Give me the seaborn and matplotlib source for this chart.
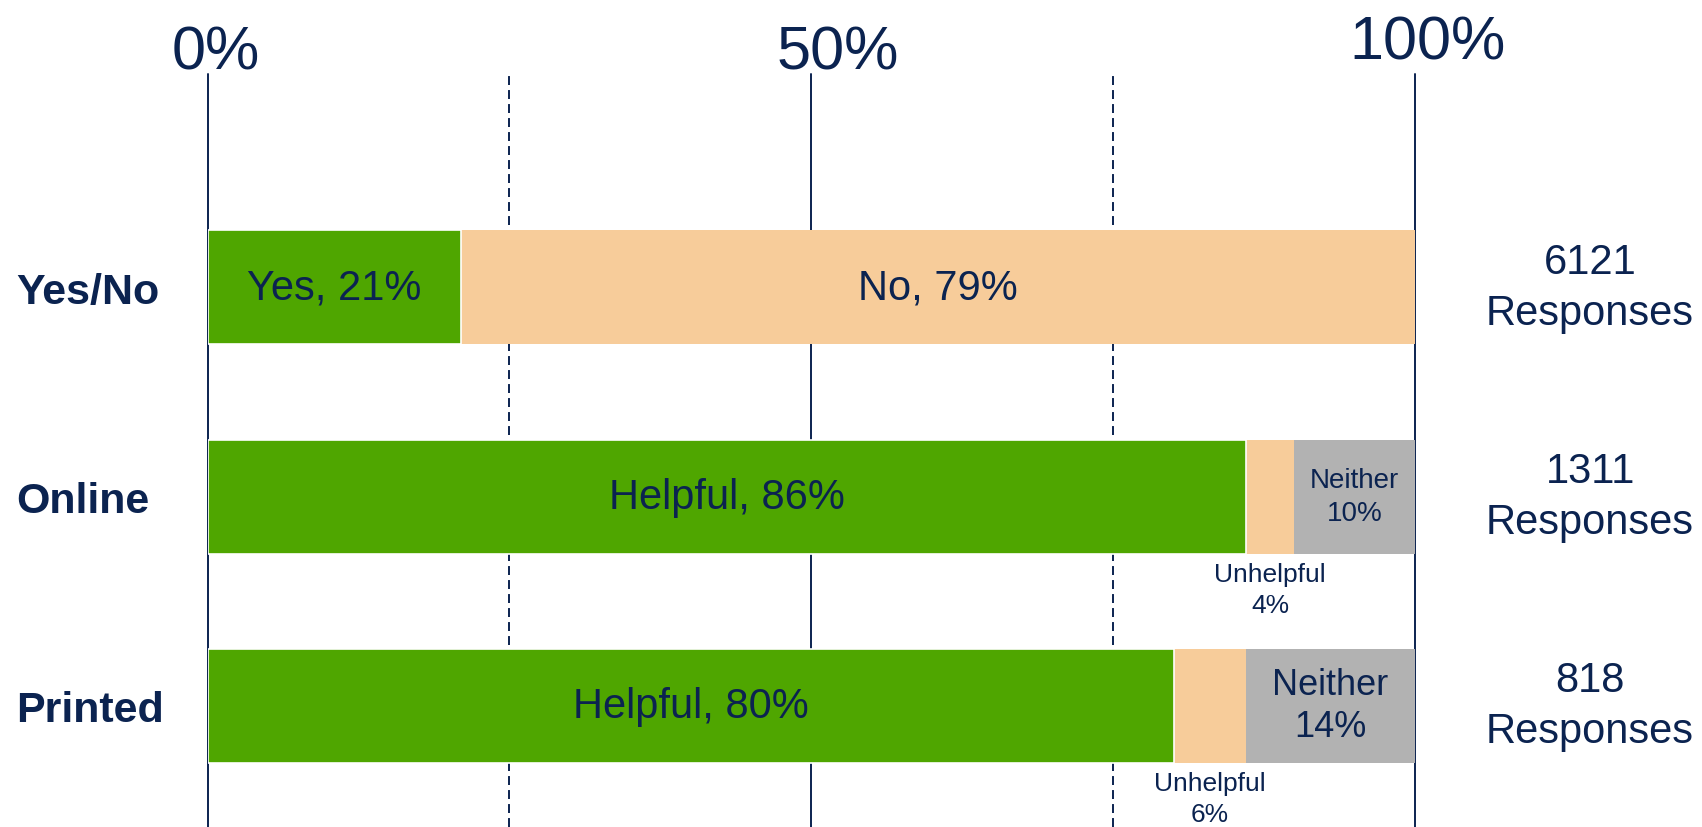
import numpy as np
import pandas as pd
import matplotlib
matplotlib.use("Agg")
import matplotlib.pyplot as plt
import seaborn as sns
from matplotlib.ticker import FixedLocator
from matplotlib.transforms import ScaledTranslation

# Survey results: share of answers per question type (percent)
questions = ["Yes/No", "Online", "Printed"]
positive_pct = [21, 86, 80]
negative_pct = [79, 4, 6]
neutral_pct = [0, 10, 14]
positive_names = ["Yes", "Helpful", "Helpful"]
negative_names = ["No", "Unhelpful", "Unhelpful"]
response_counts = [6121, 1311, 818]
tick_values = [0, 50, 100]
tick_labels = ["0%", "50%", "100%"]
minor_tick_values = [25, 75]

NAVY = "#0B2350"
GREEN = "#4FA600"
PEACH = "#F7CC9A"
GREY = "#B2B2B2"

sns.set_theme(style="white")
plt.rcParams["font.family"] = ["Liberation Sans", "DejaVu Sans"]

df = pd.DataFrame({
    "question": questions,
    "pos": positive_pct,
    "neg": negative_pct,
    "neu": neutral_pct,
})
df["pos_neg"] = df["pos"] + df["neg"]
df["total"] = df["pos_neg"] + df["neu"]

W, H = 1702, 828
fig = plt.figure(figsize=(W / 100, H / 100), dpi=100)
ax = fig.add_axes([207.5 / W, 0, 1207.5 / W, 1 - 75 / H])

bar_h = 0.545
common = dict(data=df, y="question", orient="h", order=questions,
              width=bar_h, saturation=1, errorbar=None, ax=ax)
# stacked bars drawn back to front from cumulative totals
sns.barplot(x="total", color=GREY, linewidth=0, **common)
sns.barplot(x="pos_neg", color=PEACH, linewidth=0, **common)
sns.barplot(x="pos", color=GREEN, edgecolor="white", linewidth=1.2, **common)

ax.set_xlim(0, 100)
ax.set_ylim(2.579, -1.019)
ax.set_xlabel("")
ax.set_ylabel("")
for s in ax.spines.values():
    s.set_visible(False)

# vertical reference lines: solid at 0/50/100, dashed at 25/75
ax.xaxis.set_major_locator(FixedLocator(tick_values))
ax.xaxis.set_minor_locator(FixedLocator(minor_tick_values))
ax.set_xticklabels(tick_labels)
ax.xaxis.tick_top()
ax.grid(True, which="major", axis="x", color=NAVY, lw=1.4, ls="-")
ax.grid(True, which="minor", axis="x", color=NAVY, lw=1.4, ls=(0, (4.6, 2.6)))
ax.grid(False, axis="y")
ax.set_axisbelow(True)
for gl in ax.get_xgridlines():
    gl.set_clip_on(False)
ax.tick_params(axis="x", which="both", length=0, pad=2, labelsize=44,
               labelcolor=NAVY)

# nudge the percent labels a little right of their lines (pixel offsets)
label_nudges = [(8, -10), (26, -10), (13, 0)]
for tick, (dx, dy) in zip(ax.xaxis.get_major_ticks(), label_nudges):
    lbl = tick.label2
    lbl.set_transform(lbl.get_transform()
                      + ScaledTranslation(dx / 100, dy / 100, fig.dpi_scale_trans))

# row labels on the left, left-aligned
ax.tick_params(axis="y", length=0, pad=138, labelsize=31, labelcolor=NAVY)
for lbl in ax.get_yticklabels():
    lbl.set_horizontalalignment("left")
    lbl.set_fontweight("bold")

for i in range(len(questions)):
    p, n, z = positive_pct[i], negative_pct[i], neutral_pct[i]
    ax.text(p / 2, i, f"{positive_names[i]}, {p}%", ha="center", va="center",
            fontsize=30, color=NAVY)
    if z == 0:
        ax.text(p + n / 2, i, f"{negative_names[i]}, {n}%", ha="center",
                va="center", fontsize=30, color=NAVY)
    else:
        ax.text(p + n / 2, i + bar_h / 2 + 0.04, f"{negative_names[i]}\n{n}%",
                ha="center", va="top", fontsize=19, color=NAVY,
                linespacing=1.35, clip_on=False)
        big = z >= 12
        ax.text(p + n + z / 2, i, f"Neither\n{z}%", ha="center", va="center",
                fontsize=26 if big else 20, color=NAVY,
                linespacing=1.25 if big else 1.35)
    ax.text(114.5, i, f"{response_counts[i]}\nResponses", ha="center",
            va="center", fontsize=30, color=NAVY, linespacing=1.35,
            clip_on=False)

fig.savefig("out.png", dpi=100)
